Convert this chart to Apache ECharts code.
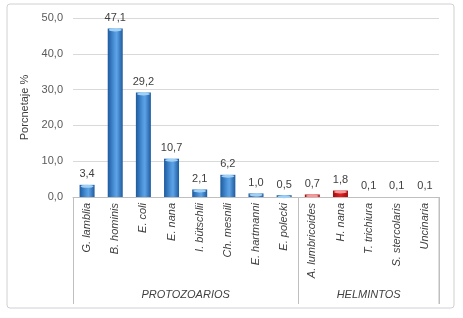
<!DOCTYPE html>
<html><head><meta charset="utf-8">
<script src="https://cdn.jsdelivr.net/npm/echarts@6/dist/echarts.min.js"></script>
<style>html,body{margin:0;padding:0;background:#fff}#c{width:463px;height:318px}</style>
</head><body><div id="c"></div>
<script>
const protozoaNames = ['G. lamblia','B. hominis','E. coli','E. nana','I. bütschlii','Ch. mesnili','E. hartmanni','E. polecki'];
const protozoaValues = [3.4, 47.1, 29.2, 10.7, 2.1, 6.2, 1.0, 0.5];
const helmintoNames = ['A. lumbricoides','H. nana','T. trichiura','S. stercolaris','Uncinaria'];
const helmintoValues = [0.7, 1.8, 0.1, 0.1, 0.1];
const groupLabels = ['PROTOZOARIOS','HELMINTOS'];
const yTicks = [0, 10, 20, 30, 40, 50];

const categories = protozoaNames.concat(helmintoNames);
const values = protozoaValues.concat(helmintoValues);
const nP = protozoaNames.length;

const blueGrad = new echarts.graphic.LinearGradient(0,0,1,0,[
  {offset:0,color:'#1d5a9e'},{offset:0.45,color:'#4f96dc'},{offset:0.6,color:'#5ea3e6'},{offset:1,color:'#1d5a9e'}]);
const redGrad = new echarts.graphic.LinearGradient(0,0,1,0,[
  {offset:0,color:'#9e0f0f'},{offset:0.5,color:'#e62020'},{offset:1,color:'#9e0f0f'}]);

const barData = values.map((v,i)=>({value:v,itemStyle:{color: i<nP ? blueGrad : redGrad, opacity: v<0.3?0:1}}));
const capData = values.map((v,i)=>({value:v,itemStyle:{color: i<nP ? '#9fd0f5' : '#f59a9a', opacity: v<0.3?0:1}}));

const fmt = v => Number(v).toFixed(1).replace('.', ',');

const chart = echarts.init(document.getElementById('c'));
chart.setOption({
  animation:false,
  grid:{left:73,right:24,top:18,bottom:121,containLabel:false},
  xAxis:{
    type:'category', data:categories,
    axisLine:{show:true,lineStyle:{color:'#bfbfbf'}},
    axisTick:{show:true,interval:(i)=> i===0 || i===nP, length:107, lineStyle:{color:'#bfbfbf'}},
    axisLabel:{rotate:90,interval:0,margin:6,fontStyle:'italic',fontSize:11,color:'#404040',fontFamily:'Liberation Sans'}
  },
  yAxis:{
    type:'value', min:yTicks[0], max:yTicks[yTicks.length-1], interval:10,
    name:'Porcnetaje %', nameLocation:'middle', nameGap:41,
    nameTextStyle:{fontSize:11,color:'#404040',fontFamily:'Liberation Sans'},
    axisLine:{show:false}, axisTick:{show:false},
    axisLabel:{formatter:fmt,fontSize:11,color:'#595959',margin:10,fontFamily:'Liberation Sans'},
    splitLine:{lineStyle:{color:'#d9d9d9'}}
  },
  series:[
    {type:'bar',data:barData,barWidth:15,barGap:'-100%',
     label:{show:true,position:'top',distance:5,formatter:p=>fmt(p.value),fontSize:11,color:'#404040',fontFamily:'Liberation Sans',opacity:1}},
    {type:'pictorialBar',data:capData,symbol:'circle',symbolSize:[13,3],symbolPosition:'end',barGap:'-100%',barWidth:15,z:3,silent:true}
  ]
});

const p0 = chart.convertToPixel({xAxisIndex:0}, 0);
const p1 = chart.convertToPixel({xAxisIndex:0}, 1);
const band = p1 - p0;
const left = p0 - band/2;
const mid = left + nP*band;
const right = left + categories.length*band;
chart.setOption({graphic:[
  {type:'rect',shape:{x:7,y:4,width:447,height:304,r:3},style:{fill:'none',stroke:'#d0d0d0',lineWidth:1},silent:true},
  {type:'line',shape:{x1:right,y1:197,x2:right,y2:304},style:{stroke:'#bfbfbf',lineWidth:1},silent:true},
  {type:'text',x:(left+mid)/2,y:295,style:{text:groupLabels[0],fontStyle:'italic',fontSize:11,fill:'#404040',fontFamily:'Liberation Sans',align:'center',verticalAlign:'middle'}},
  {type:'text',x:(mid+right)/2,y:295,style:{text:groupLabels[1],fontStyle:'italic',fontSize:11,fill:'#404040',fontFamily:'Liberation Sans',align:'center',verticalAlign:'middle'}}
]});
</script></body></html>
